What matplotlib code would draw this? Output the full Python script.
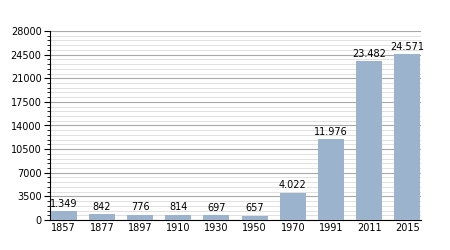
import matplotlib.pyplot as plt
import numpy as np
from matplotlib.ticker import MultipleLocator

years = ["1857", "1877", "1897", "1910", "1930", "1950", "1970", "1991", "2011", "2015"]
population = [1349, 842, 776, 814, 697, 657, 4022, 11976, 23482, 24571]


def fmt(v):
    # thousands separator as a dot
    return f"{v:,}".replace(",", ".")


fig = plt.figure(figsize=(4.5, 2.5), dpi=100)
ax = fig.add_axes([0.111, 0.12, 0.825, 0.756])

x = np.arange(len(years))
ax.bar(x, population, width=0.68, color="#9bb3cd", zorder=3)
for xi, v in zip(x, population):
    ax.text(xi, v + 350, fmt(v), ha="center", va="bottom", fontsize=7, zorder=4)

ax.set_ylim(0, 28000)
ax.set_xlim(-0.36, 9.36)
ax.yaxis.set_major_locator(MultipleLocator(3500))
ax.yaxis.set_minor_locator(MultipleLocator(700))
ax.grid(axis="y", which="major", color="#a8a8a8", linewidth=0.8, zorder=0)
ax.grid(axis="y", which="minor", color="#dcdcdc", linewidth=0.6, zorder=0)

ax.set_xticks(x)
ax.set_xticklabels(years)
ax.tick_params(axis="x", length=0, labelsize=7, pad=2)
ax.tick_params(axis="y", which="major", length=4, labelsize=7, pad=2)
ax.tick_params(axis="y", which="minor", length=2)

for s in ["top", "right"]:
    ax.spines[s].set_visible(False)
ax.spines["left"].set_linewidth(0.8)
ax.spines["bottom"].set_linewidth(0.8)

fig.savefig("out.png", dpi=100)
